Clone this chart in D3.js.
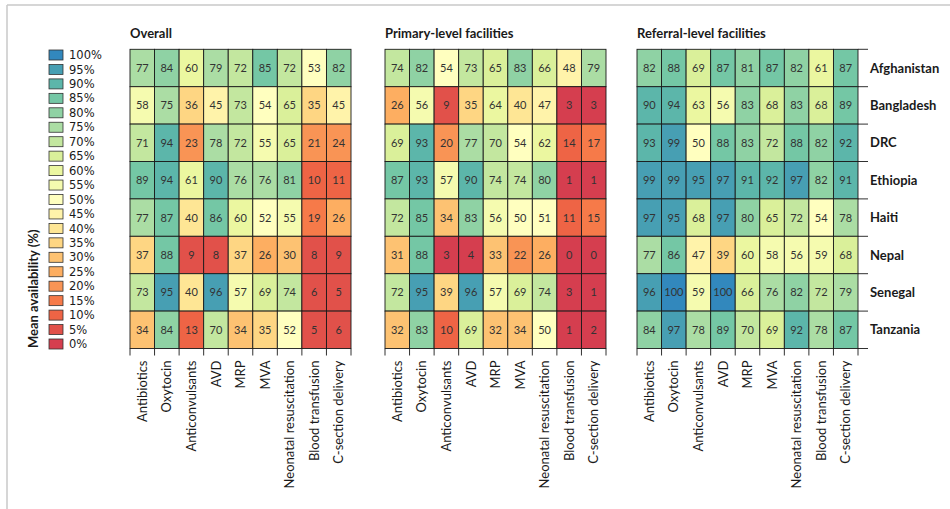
<!DOCTYPE html>
<html>
<head>
<meta charset="utf-8">
<script src="https://cdn.jsdelivr.net/npm/d3@7"></script>
<style>
  html, body { margin: 0; padding: 0; background: #fff; }
  svg { display: block; }
</style>
</head>
<body>
<svg id="chart" width="950" height="509"></svg>
<script>
// Emergency obstetric & newborn care signal functions by country
const countries = ["Afghanistan", "Bangladesh", "DRC", "Ethiopia", "Haiti", "Nepal", "Senegal", "Tanzania"];
const functions = ["Antibiotics", "Oxytocin", "Anticonvulsants", "AVD", "MRP", "MVA",
                   "Neonatal resuscitation", "Blood transfusion", "C-section delivery"];
const panelTitles = ["Overall", "Primary-level facilities", "Referral-level facilities"];
const legendLevels = [100, 95, 90, 85, 80, 75, 70, 65, 60, 55, 50, 45, 40, 35, 30, 25, 20, 15, 10, 5, 0];

// Mean availability (%), one row per country, one column per signal function
const overallValues = [
  [77, 84, 60, 79, 72, 85, 72, 53, 82],
  [58, 75, 36, 45, 73, 54, 65, 35, 45],
  [71, 94, 23, 78, 72, 55, 65, 21, 24],
  [89, 94, 61, 90, 76, 76, 81, 10, 11],
  [77, 87, 40, 86, 60, 52, 55, 19, 26],
  [37, 88, 9, 8, 37, 26, 30, 8, 9],
  [73, 95, 40, 96, 57, 69, 74, 6, 5],
  [34, 84, 13, 70, 34, 35, 52, 5, 6]
];
const primaryValues = [
  [74, 82, 54, 73, 65, 83, 66, 48, 79],
  [26, 56, 9, 35, 64, 40, 47, 3, 3],
  [69, 93, 20, 77, 70, 54, 62, 14, 17],
  [87, 93, 57, 90, 74, 74, 80, 1, 1],
  [72, 85, 34, 83, 56, 50, 51, 11, 15],
  [31, 88, 3, 4, 33, 22, 26, 0, 0],
  [72, 95, 39, 96, 57, 69, 74, 3, 1],
  [32, 83, 10, 69, 32, 34, 50, 1, 2]
];
const referralValues = [
  [82, 88, 69, 87, 81, 87, 82, 61, 87],
  [90, 94, 63, 56, 83, 68, 83, 68, 89],
  [93, 99, 50, 88, 83, 72, 88, 82, 92],
  [99, 99, 95, 97, 91, 92, 97, 82, 91],
  [97, 95, 68, 97, 80, 65, 72, 54, 78],
  [77, 86, 47, 39, 60, 58, 56, 59, 68],
  [96, 100, 59, 100, 66, 76, 82, 72, 79],
  [84, 97, 78, 89, 70, 69, 92, 78, 87]
];
const panelValues = [overallValues, primaryValues, referralValues];

// Spectral-style ramp, values binned into 5% steps
const spectral = ["#d53e4f", "#f46d43", "#fdae61", "#fee08b", "#ffffbf", "#e6f598", "#abdda4", "#66c2a5", "#3288bd"];
const ramp = d3.scaleLinear()
  .domain(d3.range(spectral.length).map(i => i * 100 / (spectral.length - 1)))
  .range(spectral)
  .interpolate(d3.interpolateRgb);
const binColor = v => ramp(Math.min(100, Math.floor(v / 5) * 5));

const svg = d3.select("#chart");
const bodyFont = "Lato, 'Open Sans', sans-serif";
const ink = "#1a1a1a";

// outer frame
svg.append("line").attr("x1", 7).attr("x2", 950).attr("y1", 5).attr("y2", 5)
  .attr("stroke", "#c8c8c8").attr("stroke-width", 1.5);
svg.append("line").attr("x1", 7).attr("x2", 7).attr("y1", 5).attr("y2", 509)
  .attr("stroke", "#c8c8c8").attr("stroke-width", 1.5);

// layout
const panelLeft = [130, 385, 637];
const panelWidth = 221;
const gridTop = 49.3;
const gridHeight = 299.2;

const y = d3.scaleBand().domain(countries).range([gridTop, gridTop + gridHeight]).padding(0);

panelValues.forEach((values, p) => {
  const x = d3.scaleBand().domain(functions)
    .range([panelLeft[p], panelLeft[p] + panelWidth]).padding(0);
  const g = svg.append("g");

  // panel title
  g.append("text")
    .attr("x", panelLeft[p]).attr("y", 38)
    .attr("font-family", bodyFont).attr("font-weight", 700).attr("font-size", 13)
    .attr("fill", ink).text(panelTitles[p]);

  const cells = [];
  values.forEach((row, i) => row.forEach((v, j) => cells.push({ c: countries[i], f: functions[j], v })));

  g.selectAll("rect.cell").data(cells).join("rect")
    .attr("class", "cell")
    .attr("x", d => x(d.f)).attr("y", d => y(d.c))
    .attr("width", x.bandwidth()).attr("height", y.bandwidth())
    .attr("fill", d => binColor(d.v))
    .attr("stroke", ink).attr("stroke-width", 0.9);

  g.selectAll("text.val").data(cells).join("text")
    .attr("class", "val")
    .attr("x", d => x(d.f) + x.bandwidth() / 2)
    .attr("y", d => y(d.c) + y.bandwidth() / 2)
    .attr("dy", "0.36em")
    .attr("text-anchor", "middle")
    .attr("font-family", bodyFont).attr("font-size", 11)
    .attr("fill", "#333").text(d => d.v);

  // ticks on band boundaries below the grid
  const edges = functions.map(f => x(f)).concat([panelLeft[p] + panelWidth]);
  g.selectAll("line.xtick").data(edges).join("line")
    .attr("x1", d => d).attr("x2", d => d)
    .attr("y1", gridTop + gridHeight).attr("y2", gridTop + gridHeight + 7)
    .attr("stroke", ink).attr("stroke-width", 0.9);

  // rotated function labels
  g.selectAll("text.xlab").data(functions).join("text")
    .attr("class", "xlab")
    .attr("transform", d => `translate(${x(d) + x.bandwidth() / 2},${gridTop + gridHeight + 12}) rotate(-90)`)
    .attr("dy", "0.35em")
    .attr("text-anchor", "end")
    .attr("font-family", bodyFont).attr("font-size", 13)
    .attr("fill", ink).text(d => d);

  // country axis on the right of the last panel
  if (p === panelValues.length - 1) {
    const right = panelLeft[p] + panelWidth;
    const yEdges = countries.map(c => y(c)).concat([gridTop + gridHeight]);
    g.selectAll("line.ytick").data(yEdges).join("line")
      .attr("x1", right).attr("x2", right + 10)
      .attr("y1", d => d).attr("y2", d => d)
      .attr("stroke", ink).attr("stroke-width", 0.9);
    g.selectAll("text.ylab").data(countries).join("text")
      .attr("class", "ylab")
      .attr("x", right + 12)
      .attr("y", d => y(d) + y.bandwidth() / 2)
      .attr("dy", "0.36em")
      .attr("font-family", bodyFont).attr("font-weight", 700).attr("font-size", 13)
      .attr("fill", ink).text(d => d);
  }
});

// legend
const legend = svg.append("g");
const ly = d3.scalePoint().domain(legendLevels).range([50, 339]);
legend.selectAll("rect").data(legendLevels).join("rect")
  .attr("x", 49).attr("y", d => ly(d))
  .attr("width", 14).attr("height", 10)
  .attr("fill", d => binColor(d))
  .attr("stroke", "#333").attr("stroke-width", 0.8);
legend.selectAll("text").data(legendLevels).join("text")
  .attr("x", 69).attr("y", d => ly(d) + 5)
  .attr("dy", "0.36em")
  .attr("font-family", "'DejaVu Sans', sans-serif").attr("font-size", 11.5)
  .attr("fill", ink).text(d => d + "%");
svg.append("text")
  .attr("transform", "translate(38,348) rotate(-90)")
  .attr("text-anchor", "start")
  .attr("font-family", bodyFont).attr("font-weight", 700).attr("font-size", 13)
  .attr("fill", ink).text("Mean availability (%)");
</script>
</body>
</html>
